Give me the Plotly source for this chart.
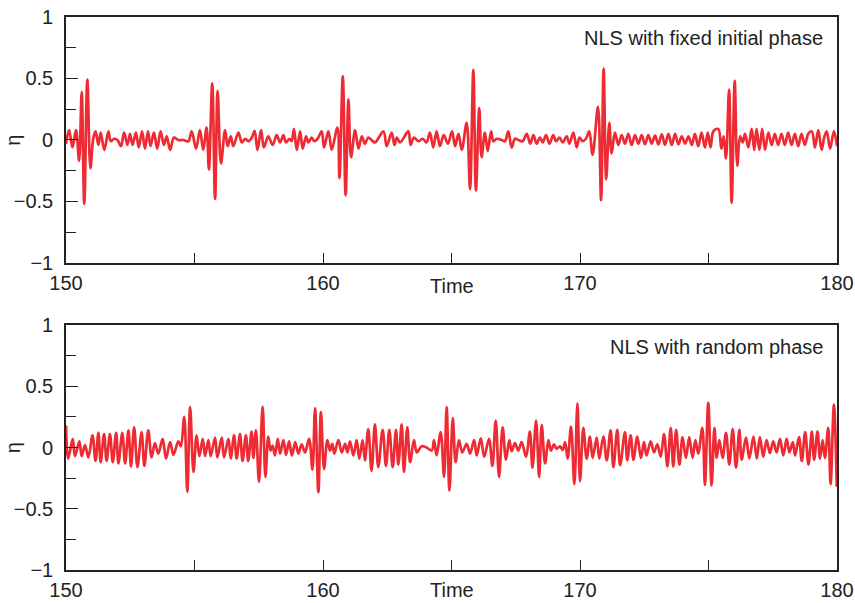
import plotly.graph_objects as go

# ---------------- data ----------------
t_fixed = [150.00, 150.12, 150.25, 150.39, 150.51, 150.61, 150.71, 150.83, 150.95, 151.06,
           151.15, 151.26, 151.35, 151.49, 151.65, 151.74, 151.87, 152.00, 152.14, 152.26,
           152.39, 152.49, 152.59, 152.72, 152.83, 152.96, 153.07, 153.19, 153.29, 153.42,
           153.55, 153.68, 153.81, 153.92, 154.05, 154.20, 154.37, 154.57, 154.76, 154.89,
           155.06, 155.21, 155.34, 155.47, 155.56, 155.69, 155.80, 155.90, 156.03, 156.19,
           156.29, 156.41, 156.51, 156.71, 156.84, 156.97, 157.10, 157.23, 157.34, 157.45,
           157.59, 157.70, 157.87, 158.04, 158.20, 158.33, 158.46, 158.56, 158.69, 158.78,
           158.87, 158.98, 159.11, 159.21, 159.34, 159.43, 159.56, 159.66, 159.79, 159.95,
           160.04, 160.21, 160.34, 160.56, 160.64, 160.77, 160.88, 160.99, 161.09, 161.25,
           161.38, 161.51, 161.63, 161.76, 161.89, 162.02, 162.35, 162.48, 162.67, 162.78,
           162.87, 163.00, 163.32, 163.41, 163.54, 163.71, 163.88, 164.03, 164.16, 164.29,
           164.42, 164.55, 164.70, 164.86, 165.02, 165.14, 165.27, 165.40, 165.59, 165.72,
           165.85, 165.95, 166.08, 166.17, 166.30, 166.41, 166.54, 166.63, 166.76, 166.95,
           167.08, 167.21, 167.34, 167.47, 167.60, 167.77, 167.93, 168.06, 168.19, 168.31,
           168.44, 168.55, 168.68, 168.81, 168.96, 169.07, 169.20, 169.33, 169.48, 169.59,
           169.74, 169.87, 169.98, 170.10, 170.23, 170.36, 170.49, 170.70, 170.82, 170.92,
           171.02, 171.14, 171.23, 171.36, 171.49, 171.62, 171.75, 171.88, 172.01, 172.14,
           172.27, 172.40, 172.53, 172.66, 172.79, 172.92, 173.05, 173.18, 173.31, 173.44,
           173.57, 173.70, 173.83, 173.96, 174.09, 174.22, 174.35, 174.47, 174.60, 174.73,
           174.86, 174.97, 175.08, 175.19, 175.38, 175.50, 175.59, 175.68, 175.80, 175.90,
           176.02, 176.12, 176.23, 176.33, 176.42, 176.55, 176.68, 176.78, 176.87, 176.98,
           177.09, 177.20, 177.33, 177.46, 177.58, 177.71, 177.84, 177.97, 178.10, 178.23,
           178.36, 178.49, 178.62, 178.75, 178.88, 179.02, 179.14, 179.27, 179.40, 179.50,
           179.60, 179.73, 179.88, 180.00]
eta_fixed = [-0.03, 0.08, -0.06, 0.08, -0.17, 0.39, -0.52, 0.49, -0.23, 0.01,
             0.07, -0.04, 0.06, -0.08, 0.07, -0.01, 0.01, 0.00, -0.05, 0.06,
             -0.04, 0.05, -0.04, 0.06, -0.06, 0.07, -0.07, 0.07, -0.05, 0.06,
             -0.07, 0.07, -0.04, 0.03, -0.08, 0.02, 0.00, 0.00, -0.01, 0.07,
             -0.07, 0.08, -0.08, 0.10, -0.24, 0.46, -0.48, 0.40, -0.19, 0.08,
             -0.05, 0.03, -0.05, 0.06, -0.02, 0.01, -0.01, 0.02, 0.075, -0.08,
             0.08, -0.06, 0.03, -0.04, 0.04, -0.02, 0.04, -0.02, 0.01, -0.01,
             0.09, -0.08, 0.07, -0.07, 0.03, -0.02, 0.02, -0.01, 0.01, 0.07,
             -0.06, 0.07, -0.08, 0.10, -0.31, 0.52, -0.45, 0.33, -0.14, 0.08,
             -0.07, 0.03, -0.03, 0.02, 0.00, -0.02, 0.07, -0.05, 0.06, -0.04,
             0.02, -0.02, 0.07, -0.04, 0.02, -0.01, 0.01, -0.02, 0.06, -0.06,
             0.07, -0.05, 0.04, -0.03, 0.07, -0.05, 0.05, -0.08, 0.14, -0.40,
             0.57, -0.41, 0.26, -0.14, 0.06, -0.09, 0.07, -0.01, 0.01, 0.00,
             -0.01, 0.07, -0.06, 0.01, 0.00, -0.01, 0.05, -0.03, 0.04, -0.03,
             0.02, -0.02, 0.04, -0.03, 0.04, -0.01, 0.02, -0.02, 0.03, -0.03,
             0.06, -0.06, 0.02, -0.01, 0.01, 0.07, -0.12, 0.27, -0.49, 0.58,
             -0.32, 0.14, -0.11, 0.06, -0.04, 0.04, -0.03, 0.05, -0.04, 0.04,
             -0.03, 0.04, -0.035, 0.04, -0.03, 0.035, -0.035, 0.045, -0.04, 0.05,
             -0.04, 0.05, -0.035, 0.03, -0.03, 0.03, -0.04, 0.05, -0.05, 0.06,
             -0.06, 0.06, -0.06, 0.07, 0.09, -0.07, 0.03, -0.15, 0.41, -0.51,
             0.48, -0.21, 0.03, -0.02, 0.05, -0.06, 0.09, -0.08, 0.09, -0.08,
             0.09, -0.08, 0.06, -0.04, 0.05, -0.04, 0.05, -0.04, 0.06, -0.04,
             0.05, -0.05, 0.05, -0.04, 0.05, 0.07, -0.06, 0.08, -0.08, 0.02,
             0.07, -0.07, 0.07, -0.05]

t_random = [150.00, 150.09, 150.26, 150.35, 150.52, 150.61, 150.74, 150.87, 151.03, 151.15,
            151.26, 151.35, 151.48, 151.58, 151.71, 151.82, 151.95, 152.04, 152.19, 152.30,
            152.43, 152.53, 152.65, 152.78, 152.94, 153.05, 153.20, 153.33, 153.46, 153.59,
            153.76, 153.89, 154.05, 154.18, 154.37, 154.47, 154.60, 154.72, 154.83, 154.96,
            155.08, 155.19, 155.32, 155.41, 155.54, 155.63, 155.80, 155.89, 156.06, 156.15,
            156.32, 156.41, 156.54, 156.64, 156.77, 156.87, 157.00, 157.09, 157.22, 157.29,
            157.39, 157.51, 157.65, 157.76, 157.87, 157.96, 158.04, 158.13, 158.24, 158.33,
            158.46, 158.56, 158.68, 158.79, 158.92, 159.04, 159.17, 159.30, 159.46, 159.59,
            159.69, 159.82, 159.92, 160.04, 160.17, 160.27, 160.36, 160.44, 160.60, 160.73,
            160.86, 160.95, 161.05, 161.18, 161.31, 161.41, 161.54, 161.63, 161.76, 161.89,
            162.02, 162.15, 162.32, 162.45, 162.58, 162.71, 162.84, 162.93, 163.06, 163.15,
            163.28, 163.39, 163.54, 163.65, 163.84, 164.03, 164.23, 164.32, 164.42, 164.58,
            164.71, 164.81, 164.92, 165.05, 165.16, 165.29, 165.42, 165.59, 165.72, 165.88,
            165.98, 166.14, 166.27, 166.46, 166.59, 166.72, 166.85, 166.99, 167.12, 167.25,
            167.34, 167.47, 167.60, 167.73, 167.90, 168.05, 168.15, 168.29, 168.41, 168.51,
            168.64, 168.77, 168.87, 168.99, 169.09, 169.22, 169.33, 169.42, 169.52, 169.65,
            169.78, 169.90, 170.00, 170.13, 170.26, 170.39, 170.49, 170.65, 170.75, 170.91,
            171.04, 171.19, 171.30, 171.45, 171.56, 171.75, 171.84, 171.97, 172.08, 172.23,
            172.37, 172.49, 172.59, 172.75, 172.88, 173.01, 173.14, 173.27, 173.40, 173.53,
            173.63, 173.74, 173.87, 173.99, 174.12, 174.25, 174.38, 174.49, 174.60, 174.76,
            174.86, 174.99, 175.12, 175.23, 175.32, 175.42, 175.55, 175.68, 175.81, 175.94,
            176.07, 176.20, 176.29, 176.46, 176.59, 176.75, 176.88, 177.00, 177.13, 177.26,
            177.39, 177.52, 177.65, 177.78, 177.91, 178.04, 178.15, 178.28, 178.37, 178.52,
            178.63, 178.76, 178.89, 179.02, 179.11, 179.24, 179.34, 179.44, 179.53, 179.66,
            179.75, 179.88, 179.99]
eta_random = [0.18, -0.09, 0.07, -0.07, 0.05, -0.07, 0.02, -0.08, 0.10, -0.11,
              0.12, -0.12, 0.11, -0.11, 0.11, -0.12, 0.12, -0.13, 0.12, -0.13,
              0.14, -0.155, 0.165, -0.16, 0.125, -0.15, 0.14, -0.08, 0.035, -0.05,
              0.07, -0.09, 0.045, -0.06, 0.05, 0.01, 0.25, -0.36, 0.33, -0.20,
              0.10, -0.07, 0.07, -0.07, 0.06, -0.07, 0.08, -0.08, 0.08, -0.08,
              0.07, -0.09, 0.10, -0.09, 0.11, -0.11, 0.10, -0.11, 0.13, -0.085,
              0.14, -0.28, 0.335, -0.24, 0.09, -0.025, 0.015, -0.065, 0.07, -0.05,
              0.06, -0.06, 0.05, -0.065, 0.045, -0.05, 0.025, -0.04, 0.07, -0.18,
              0.32, -0.365, 0.29, -0.175, 0.06, -0.025, 0.03, -0.05, 0.06, -0.04,
              0.03, -0.04, 0.05, -0.065, 0.06, -0.09, 0.06, -0.105, 0.15, -0.19,
              0.19, -0.16, 0.145, -0.15, 0.145, -0.16, 0.145, -0.14, 0.19, -0.20,
              0.165, -0.12, 0.06, -0.04, 0.01, 0.00, -0.025, 0.06, -0.065, 0.125,
              -0.24, 0.33, -0.35, 0.24, -0.12, 0.06, -0.04, 0.03, -0.05, 0.06,
              -0.065, 0.075, -0.075, 0.07, -0.15, 0.22, -0.24, 0.165, -0.10, 0.06,
              -0.03, 0.035, -0.025, 0.045, -0.075, 0.13, -0.165, 0.22, -0.24, 0.185,
              -0.13, 0.06, -0.025, 0.025, -0.01, 0.01, -0.02, 0.045, -0.09, 0.17,
              -0.30, 0.36, -0.275, 0.16, -0.09, 0.09, -0.085, 0.08, -0.09, 0.09,
              -0.105, 0.14, -0.16, 0.145, -0.145, 0.125, -0.105, 0.10, -0.10, 0.09,
              -0.085, 0.045, -0.065, 0.05, -0.04, 0.025, -0.075, 0.11, -0.155, 0.16,
              -0.155, 0.145, -0.14, 0.085, -0.085, 0.085, -0.085, 0.06, -0.05, 0.16,
              -0.305, 0.365, -0.31, 0.16, -0.085, 0.06, -0.085, 0.12, -0.14, 0.15,
              -0.165, 0.145, -0.10, 0.08, -0.09, 0.09, -0.09, 0.085, -0.075, 0.06,
              -0.045, 0.05, -0.04, 0.07, -0.065, 0.07, -0.04, 0.045, -0.065, 0.085,
              -0.11, 0.125, -0.14, 0.13, -0.10, 0.13, -0.09, 0.06, -0.085, 0.16,
              -0.30, 0.35, -0.32]

x_tick_vals = [150, 160, 170, 180]
x_minor_vals = [155, 165, 175]
y_tick_vals = [-1, -0.5, 0, 0.5, 1]
y_tick_text = ["\u22121", "\u22120.5", "0", "0.5", "1"]
y_minor_vals = [-0.75, -0.25, 0.25, 0.75]
panel_labels = ["NLS with fixed initial phase", "NLS with random phase"]

# ---------------- figure ----------------
RED = "#EE2A33"
INK = "#222222"
FONT = "Liberation Sans, Arial, Helvetica, sans-serif"
FS = 20

fig = go.Figure()
fig.add_trace(go.Scatter(x=t_fixed, y=eta_fixed, mode="lines",
                         line=dict(color=RED, width=2.7, shape="spline", smoothing=1.0),
                         xaxis="x", yaxis="y", showlegend=False, hoverinfo="skip"))
fig.add_trace(go.Scatter(x=t_random, y=eta_random, mode="lines",
                         line=dict(color=RED, width=2.7, shape="spline", smoothing=1.0),
                         xaxis="x2", yaxis="y2", showlegend=False, hoverinfo="skip"))


def xaxis_cfg(anchor):
    return dict(anchor=anchor, domain=[0, 1], range=[150, 180], automargin=False,
                tickmode="array", tickvals=x_tick_vals,
                ticks="inside", ticklen=10, tickwidth=1.4, tickcolor=INK,
                minor=dict(tickmode="array", tickvals=x_minor_vals, ticks="inside",
                           ticklen=10, tickwidth=1.4, tickcolor=INK),
                showline=True, linecolor=INK, linewidth=1.6, mirror=True,
                showgrid=False, zeroline=False, ticklabelstandoff=1,
                tickfont=dict(family=FONT, size=FS, color=INK))


def yaxis_cfg(anchor, domain):
    return dict(anchor=anchor, domain=domain, range=[-1, 1], automargin=False,
                tickmode="array", tickvals=y_tick_vals, ticktext=y_tick_text,
                ticks="inside", ticklen=12, tickwidth=1.4, tickcolor=INK,
                minor=dict(tickmode="array", tickvals=y_minor_vals, ticks="inside",
                           ticklen=10, tickwidth=1.4, tickcolor=INK),
                showline=True, linecolor=INK, linewidth=1.6, mirror=True,
                showgrid=False, zeroline=False, ticklabelstandoff=7,
                tickfont=dict(family=FONT, size=FS, color=INK))


fig.update_layout(
    width=855, height=603,
    margin=dict(l=66, r=18, t=17, b=33, autoexpand=False),
    paper_bgcolor="white", plot_bgcolor="white",
    xaxis=xaxis_cfg("y"),
    yaxis=yaxis_cfg("x", [0.5552, 1.0]),
    xaxis2=xaxis_cfg("y2"),
    yaxis2=yaxis_cfg("x2", [0.0, 0.443]),
)

ann = []
# panel labels
ann.append(dict(text=panel_labels[0], xref="paper", yref="paper", x=0.984, y=0.962,
                xanchor="right", yanchor="middle", showarrow=False,
                font=dict(family=FONT, size=FS, color=INK)))
ann.append(dict(text=panel_labels[1], xref="paper", yref="paper", x=0.984, y=0.4033,
                xanchor="right", yanchor="middle", showarrow=False,
                font=dict(family=FONT, size=FS, color=INK)))
# x titles
ann.append(dict(text="Time", xref="paper", yref="paper", x=0.5, y=0.5136,
                xanchor="center", yanchor="middle", showarrow=False,
                font=dict(family=FONT, size=FS, color=INK)))
ann.append(dict(text="Time", xref="paper", yref="paper", x=0.5, y=-0.0597,
                xanchor="center", yanchor="bottom", showarrow=False,
                font=dict(family=FONT, size=FS, color=INK)))
# y titles
for yy in (0.7776, 0.2215):
    ann.append(dict(text="\u03b7", xref="paper", yref="paper", x=-0.069, y=yy,
                    xanchor="center", yanchor="middle", showarrow=False, textangle=-90,
                    font=dict(family=FONT, size=FS, color=INK)))
fig.update_layout(annotations=ann)

fig.write_html(
    "out.html",
    config={"displayModeBar": False},
    post_script="document.body.style.margin='0';document.body.style.overflow='hidden';",
)
